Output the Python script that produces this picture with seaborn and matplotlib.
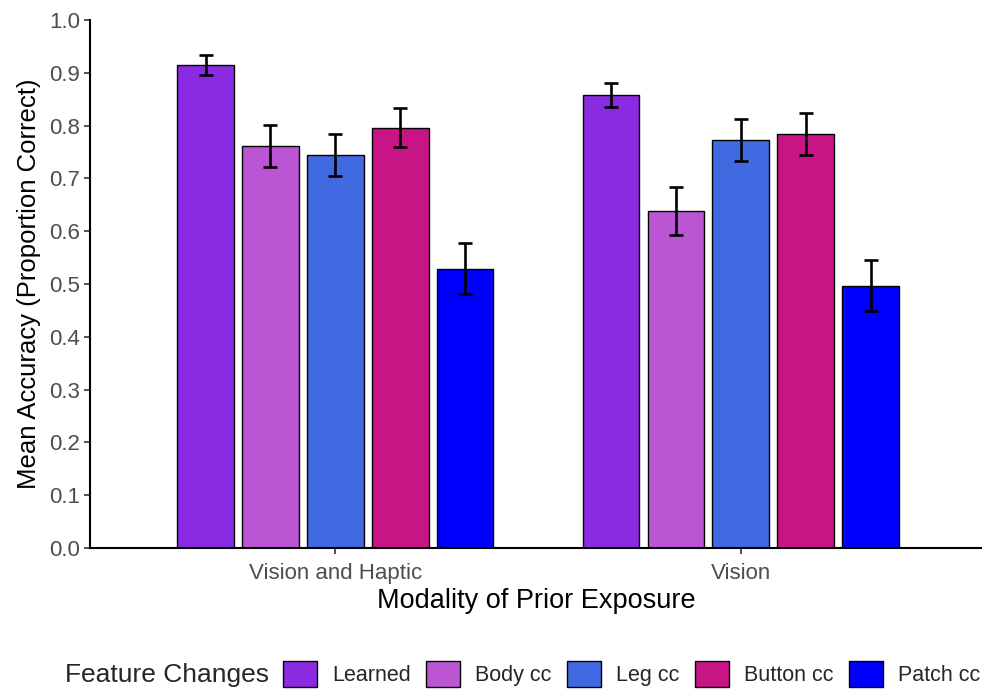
import matplotlib
matplotlib.use("Agg")
import matplotlib.pyplot as plt
from matplotlib.patches import Patch
import seaborn as sns
import pandas as pd
import numpy as np

# Data
modalities = ["Vision and Haptic", "Vision"]
features = ["Learned", "Body cc", "Leg cc", "Button cc", "Patch cc"]
mean_vh = [0.915, 0.762, 0.744, 0.796, 0.529]
mean_v = [0.858, 0.638, 0.772, 0.784, 0.497]
se_vh = [0.019, 0.040, 0.040, 0.037, 0.048]
se_v = [0.023, 0.045, 0.040, 0.039, 0.048]
colors = ["#8A2BE2", "#BA55D3", "#4169E1", "#C71585", "#0000FF"]

df = pd.DataFrame({
    "Modality": [modalities[0]] * 5 + [modalities[1]] * 5,
    "Feature": features * 2,
    "Accuracy": mean_vh + mean_v,
    "SE": se_vh + se_v,
})

sns.set_theme(style="white")
plt.rcParams["font.family"] = ["Liberation Sans", "DejaVu Sans"]

fig = plt.figure(figsize=(9.82, 6.89), dpi=100)
ax = fig.add_axes([0.0917, 0.2046, 0.9083, 0.7664])

sns.barplot(data=df, x="Modality", y="Accuracy", hue="Feature",
            order=modalities, hue_order=features, palette=colors,
            saturation=1, width=0.8, gap=0.125, edgecolor="black",
            linewidth=1.0, errorbar=None, legend=False, ax=ax)

# Error bars at each bar's centre
for feat, container in zip(features, ax.containers):
    sub = df[df["Feature"] == feat].set_index("Modality").loc[modalities]
    xs = [b.get_x() + b.get_width() / 2 for b in container]
    ax.errorbar(xs, sub["Accuracy"].values, yerr=sub["SE"].values,
                fmt="none", ecolor="black", elinewidth=1.9,
                capsize=4.7, capthick=1.9, zorder=5)

ax.set_ylim(0, 1.0)
ticks = np.round(np.arange(0, 1.01, 0.1), 1)
ax.set_yticks(ticks)
ax.set_yticklabels([f"{v:.1f}" for v in ticks])
ax.set_xlim(-0.605, 1.595)

for s in ["top", "right"]:
    ax.spines[s].set_visible(False)
for s in ["left", "bottom"]:
    ax.spines[s].set_color("black")
    ax.spines[s].set_linewidth(1.5)

ax.tick_params(axis="both", which="both", direction="out", length=4,
               width=1.2, color="#333333", labelsize=16,
               labelcolor="#4D4D4D", left=True, bottom=True, pad=3)
ax.tick_params(axis="x", pad=7)

ax.set_xlabel("Modality of Prior Exposure", fontsize=19.5, color="black", labelpad=3)
ax.set_ylabel("Mean Accuracy (Proportion Correct)", fontsize=18.5, color="black", labelpad=6)

# Legend along the bottom with its title to the left
handles = [Patch(facecolor=c, edgecolor="black", linewidth=1.0) for c in colors]
fig.text(0.066, 0.003, "Feature Changes", fontsize=19, ha="left", va="bottom")
fig.legend(handles, features, loc="lower left", bbox_to_anchor=(0.279, -0.01),
           ncol=5, frameon=False, fontsize=15.5, handlelength=1.6,
           handleheight=1.5, handletextpad=0.7, columnspacing=0.7,
           borderaxespad=0.0)

fig.savefig("out.png", dpi=100)
